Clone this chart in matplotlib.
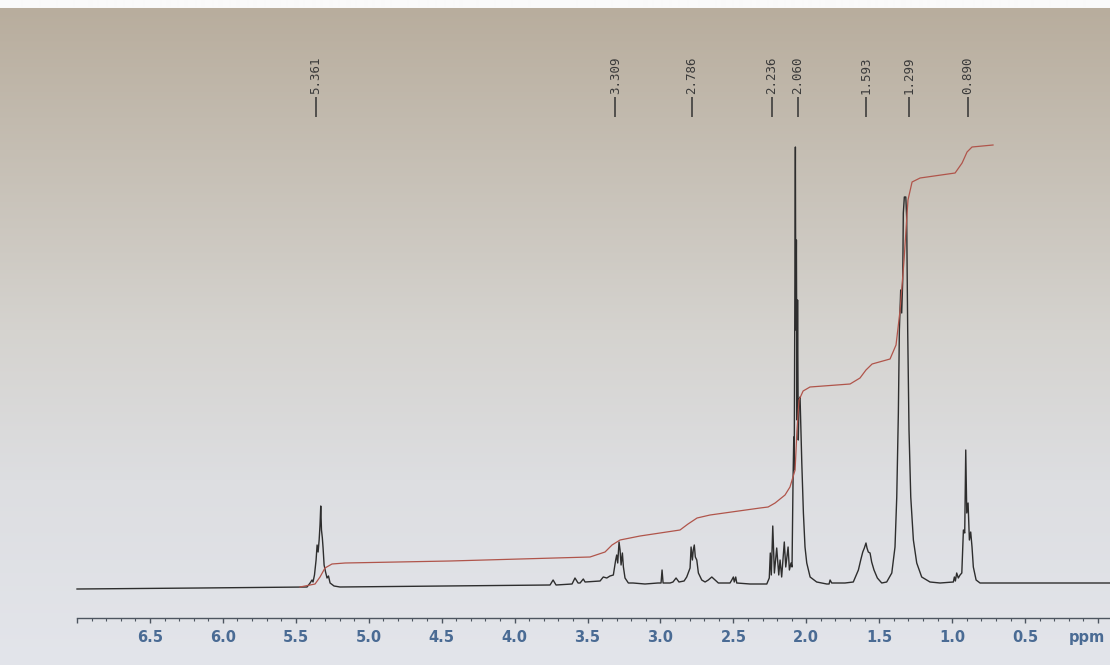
import numpy as np
import matplotlib
matplotlib.use('Agg')
import matplotlib.pyplot as plt
from matplotlib.ticker import FixedLocator, FixedFormatter

# espectro 1H RMN (ppm, intensidad en unidades arbitrarias)
ppm = [7.000, 6.157, 5.471, 5.423, 5.402, 5.389, 5.382, 5.372, 5.361, 5.354,
       5.347, 5.340, 5.334, 5.329, 5.324, 5.318, 5.313, 5.306, 5.296, 5.286,
       5.276, 5.265, 5.238, 5.197, 4.443, 3.757, 3.736, 3.716, 3.606, 3.586,
       3.565, 3.551, 3.529, 3.517, 3.414, 3.392, 3.368, 3.346, 3.323, 3.307,
       3.300, 3.293, 3.284, 3.277, 3.270, 3.261, 3.254, 3.243, 3.220, 3.188,
       3.106, 3.017, 2.996, 2.989, 2.982, 2.934, 2.914, 2.893, 2.873, 2.838,
       2.820, 2.797, 2.790, 2.781, 2.775, 2.768, 2.761, 2.751, 2.740, 2.717,
       2.694, 2.672, 2.648, 2.626, 2.603, 2.523, 2.511, 2.500, 2.494, 2.484,
       2.477, 2.386, 2.271, 2.254, 2.247, 2.240, 2.230, 2.219, 2.203, 2.189,
       2.180, 2.169, 2.151, 2.141, 2.125, 2.116, 2.105, 2.098, 2.091, 2.086,
       2.083, 2.079, 2.075, 2.072, 2.068, 2.064, 2.060, 2.055, 2.050, 2.043,
       2.031, 2.020, 2.009, 1.997, 1.974, 1.929, 1.860, 1.844, 1.837, 1.826,
       1.735, 1.678, 1.643, 1.627, 1.613, 1.602, 1.591, 1.584, 1.575, 1.563,
       1.552, 1.536, 1.513, 1.483, 1.449, 1.414, 1.392, 1.380, 1.369, 1.362,
       1.353, 1.346, 1.339, 1.335, 1.328, 1.318, 1.312, 1.305, 1.296, 1.284,
       1.266, 1.243, 1.209, 1.152, 1.083, 0.992, 0.985, 0.978, 0.969, 0.958,
       0.946, 0.934, 0.923, 0.914, 0.907, 0.900, 0.891, 0.882, 0.873, 0.864,
       0.855, 0.836, 0.809, 0.398, -0.082]
inten = [-2, -1, 0, 0, 4, 7, 5, 12, 27, 42,
         35, 47, 62, 81, 57, 49, 39, 22, 15, 9,
         11, 4, 1, 0, 1, 2, 7, 2, 3, 9,
         4, 4, 8, 5, 6, 10, 9, 11, 12, 27,
         32, 24, 45, 37, 22, 34, 20, 9, 4, 4,
         3, 4, 4, 17, 4, 4, 5, 9, 5, 6,
         10, 19, 40, 27, 37, 42, 30, 27, 14, 7,
         5, 7, 10, 7, 4, 4, 7, 10, 5, 10,
         4, 3, 3, 9, 34, 12, 61, 14, 39, 12,
         27, 10, 45, 20, 40, 17, 24, 20, 107, 150,
         117, 287, 440, 257, 347, 167, 287, 147, 187, 190,
         124, 74, 40, 24, 10, 5, 3, 3, 7, 4,
         4, 5, 17, 27, 35, 39, 44, 39, 35, 34,
         25, 17, 9, 4, 5, 14, 40, 90, 174, 257,
         297, 274, 307, 374, 390, 390, 370, 257, 157, 90,
         47, 24, 10, 5, 4, 5, 10, 6, 14, 9,
         12, 14, 57, 54, 137, 74, 84, 47, 55, 40,
         20, 7, 4, 4, 4]

# curva de integracion
int_ppm = [5.471, 5.368, 5.334, 5.300, 5.252, 5.162, 4.443, 3.483, 3.380, 3.332,
           3.277, 3.140, 2.866, 2.811, 2.749, 2.660, 2.317, 2.262, 2.214, 2.146,
           2.112, 2.077, 2.064, 2.050, 2.022, 1.975, 1.700, 1.632, 1.591, 1.549,
           1.426, 1.385, 1.357, 1.330, 1.303, 1.275, 1.220, 0.980, 0.932, 0.898,
           0.864, 0.720]
int_val = [0, 3, 10, 19, 23, 24, 26, 30, 35, 42,
           47, 51, 57, 63, 69, 72, 79, 80, 84, 92,
           100, 117, 157, 187, 196, 200, 203, 209, 217, 223,
           228, 242, 277, 327, 387, 405, 409, 414, 424, 435,
           440, 442]

# etiquetas de picos
picos = [5.361, 3.309, 2.786, 2.236, 2.060, 1.593, 1.299, 0.890]

# eje x
ticks_may = [7.0, 6.5, 6.0, 5.5, 5.0, 4.5, 4.0, 3.5, 3.0, 2.5, 2.0, 1.5, 1.0, 0.5, 0.0]
ticks_lab = ['', '6.5', '6.0', '5.5', '5.0', '4.5', '4.0', '3.5', '3.0', '2.5',
             '2.0', '1.5', '1.0', '0.5', '']

#==========================================================================
fig = plt.figure(figsize=(11.1, 6.65), dpi=100)

# fondo tipo foto (papel)
bg = fig.add_axes([0, 0, 1, 1])
bg.axis('off')
yy = np.arange(665)
stops_y = [0, 7, 8, 150, 330, 480, 665]
stops_c = np.array([[250, 250, 250], [250, 250, 250], [184, 173, 157],
                    [197, 190, 179], [213, 211, 207], [221, 222, 225],
                    [227, 229, 235]]) / 255.
img = np.stack([np.interp(yy, stops_y, stops_c[:, k]) for k in range(3)], axis=-1)
img = np.repeat(img[:, None, :], 2, axis=1)
bg.imshow(img, aspect='auto', extent=[0, 1, 0, 1], interpolation='bilinear')
bg.set_xlim(0, 1)
bg.set_ylim(0, 1)

ax = fig.add_axes([0, 0, 1, 1])
ax.patch.set_alpha(0)
ax.set_xlim(7.528, -0.082)
ax.set_ylim(-78, 587)

ax.plot(ppm, inten, color='#2e2e2e', lw=1.0)
ax.plot(int_ppm, int_val, color='#b0554b', lw=0.9)

for p in picos:
    ax.vlines(p, 470, 490, color='#333333', lw=1.1)
    ax.text(p, 493, '%.3f' % p, rotation=90, ha='center', va='bottom',
            family='DejaVu Sans Mono', fontsize=9, color='#3a3a3a')

for s in ['top', 'right', 'left']:
    ax.spines[s].set_visible(False)
ax.spines['bottom'].set_position(('data', -31))
ax.spines['bottom'].set_bounds(-0.082, 7.0)
ax.spines['bottom'].set_color('#4d5560')
ax.spines['bottom'].set_linewidth(1.0)
ax.yaxis.set_visible(False)
ax.xaxis.set_major_locator(FixedLocator(ticks_may))
ax.xaxis.set_major_formatter(FixedFormatter(ticks_lab))
ax.xaxis.set_minor_locator(FixedLocator(np.round(np.arange(-0.0, 7.01, 0.1), 1)))
ax.tick_params(axis='x', which='major', direction='out', length=3.6, width=1.0,
               color='#4d5560', pad=5, labelsize=10.5, labelcolor='#4a6b94')
ax.tick_params(axis='x', which='minor', direction='out', length=2.0, width=0.8,
               color='#4d5560')
for t in ax.get_xticklabels():
    t.set_fontweight('bold')
ax.text(0.075, -43, 'ppm', ha='center', va='top', fontsize=10.5,
        fontweight='bold', color='#4a6b94')

plt.savefig('out.png', dpi=100)
